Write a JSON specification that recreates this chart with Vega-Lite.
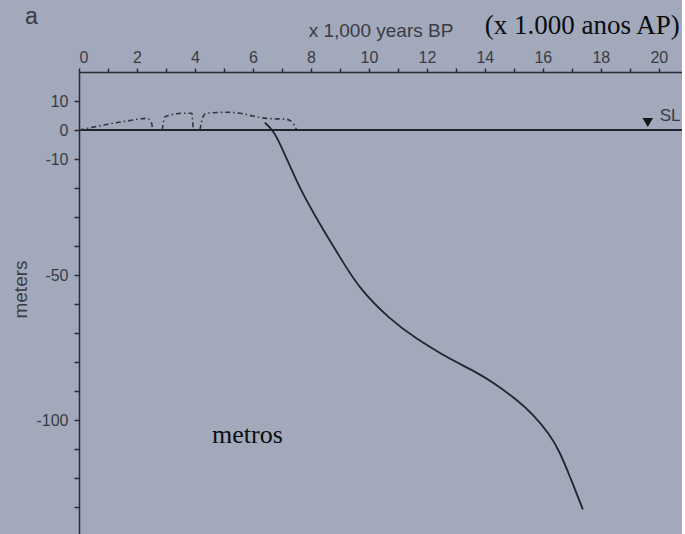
{
  "$schema": "https://vega.github.io/schema/vega-lite/v6.json",
  "autosize": "none",
  "width": 603,
  "height": 464,
  "padding": {"left": 79, "top": 72, "right": 0, "bottom": 0},
  "background": "#a1a9bb",
  "config": {
    "view": {"stroke": null},
    "font": "Liberation Sans"
  },
  "datasets": {
    "solid": [
      {"age": 6.41, "m": 2.5},
      {"age": 6.7, "m": 0},
      {"age": 7.03, "m": -6.7},
      {"age": 7.62, "m": -20.4},
      {"age": 8.2, "m": -30.5},
      {"age": 8.55, "m": -36.5},
      {"age": 9.1, "m": -45.5},
      {"age": 9.69, "m": -54.9},
      {"age": 10.72, "m": -65.3},
      {"age": 11.66, "m": -72.2},
      {"age": 12.55, "m": -77.5},
      {"age": 13.03, "m": -80.1},
      {"age": 13.71, "m": -83.6},
      {"age": 14.28, "m": -87.0},
      {"age": 15.09, "m": -92.9},
      {"age": 15.66, "m": -98.0},
      {"age": 16.24, "m": -105.0},
      {"age": 16.59, "m": -111.1},
      {"age": 16.93, "m": -119.4},
      {"age": 17.38, "m": -130.8}
    ],
    "dashed": [
      {"seg": "A", "age": 0.0, "m": 0.0},
      {"seg": "A", "age": 0.5, "m": 1.0},
      {"seg": "A", "age": 1.0, "m": 2.0},
      {"seg": "A", "age": 1.66, "m": 3.1},
      {"seg": "A", "age": 2.33, "m": 4.0},
      {"seg": "A", "age": 2.48, "m": 3.0},
      {"seg": "A", "age": 2.55, "m": 0.0},
      {"seg": "B", "age": 2.87, "m": 0.0},
      {"seg": "B", "age": 2.97, "m": 4.6},
      {"seg": "B", "age": 3.6, "m": 5.8},
      {"seg": "B", "age": 3.89, "m": 5.8},
      {"seg": "B", "age": 3.94, "m": 0.0},
      {"seg": "C", "age": 4.17, "m": 0.0},
      {"seg": "C", "age": 4.29, "m": 4.8},
      {"seg": "C", "age": 4.4, "m": 5.8},
      {"seg": "C", "age": 5.09, "m": 6.1},
      {"seg": "C", "age": 5.55, "m": 5.8},
      {"seg": "C", "age": 6.01, "m": 4.8},
      {"seg": "C", "age": 6.47, "m": 4.0},
      {"seg": "C", "age": 7.16, "m": 3.7},
      {"seg": "C", "age": 7.39, "m": 2.3},
      {"seg": "C", "age": 7.5, "m": 0.2}
    ],
    "marker": [{"age": 19.62, "m": 2.6}],
    "sl": [{"age": 20.03, "m": 5.0, "txt": "SL"}],
    "panel": [{"age": -1.86, "m": 38.9, "txt": "a"}],
    "big": [{"age": 14.0, "m": 33.0, "txt": "(x 1.000 anos AP)"}],
    "small": [{"age": 4.59, "m": -107.8, "txt": "metros"}]
  },
  "layer": [
    {
      "data": {"values": [{"m": 0}]},
      "mark": {"type": "rule", "color": "#22232b", "strokeWidth": 2},
      "encoding": {
        "y": {
          "field": "m",
          "type": "quantitative",
          "scale": {"domain": [-140, 20], "nice": false, "zero": false},
          "axis": {
            "orient": "left",
            "title": "meters",
            "titleFont": "Liberation Sans",
            "titleFontSize": 19,
            "titleFontWeight": "normal",
            "titleColor": "#3a3b45",
            "titleBaseline": "middle",
            "titleX": -59,
            "titleY": 217,
            "values": [-130, -120, -110, -100, -90, -80, -70, -60, -50, -40, -30, -20, -10, 0, 10],
            "tickCount": 40,
            "labelExpr": "indexof([10, 0, -10, -50, -100], datum.value) >= 0 ? (datum.value < 0 ? '-' + abs(datum.value) : '' + datum.value) : ''",
            "labelOverlap": false,
            "labelFontSize": 16,
            "labelColor": "#3a3b45",
            "labelPadding": 6,
            "tickSize": 5,
            "tickWidth": 1.5,
            "tickColor": "#2a2b33",
            "domainColor": "#2a2b33",
            "domainWidth": 1.5,
            "grid": false
          }
        }
      }
    },
    {
      "data": {"name": "solid"},
      "mark": {"type": "line", "color": "#23242c", "strokeWidth": 1.8, "interpolate": "basis"},
      "encoding": {
        "x": {
          "field": "age",
          "type": "quantitative",
          "scale": {"domain": [0, 20.8], "nice": false, "zero": false},
          "axis": {
            "orient": "top",
            "title": "x 1,000 years BP",
            "titleFont": "Liberation Sans",
            "titleFontSize": 19,
            "titleFontWeight": "normal",
            "titleColor": "#3a3b45",
            "titlePadding": 9,
            "values": [0, 1, 2, 3, 4, 5, 6, 7, 8, 9, 10, 11, 12, 13, 14, 15, 16, 17, 18, 19, 20],
            "tickCount": 40,
            "labelExpr": "datum.value % 2 == 0 ? '' + datum.value : ''",
            "labelOverlap": false,
            "labelFontSize": 16,
            "labelColor": "#3a3b45",
            "labelPadding": 3,
            "tickSize": 4,
            "tickWidth": 1.5,
            "tickColor": "#2a2b33",
            "domainColor": "#2a2b33",
            "domainWidth": 1.5,
            "grid": false
          }
        },
        "y": {"field": "m", "type": "quantitative"}
      }
    },
    {
      "data": {"name": "dashed"},
      "mark": {"type": "line", "color": "#34353f", "strokeWidth": 1.6, "strokeDash": [5, 3, 1.5, 3], "interpolate": "monotone"},
      "encoding": {
        "x": {"field": "age", "type": "quantitative"},
        "y": {"field": "m", "type": "quantitative"},
        "detail": {"field": "seg"}
      }
    },
    {
      "data": {"name": "marker"},
      "mark": {"type": "point", "shape": "triangle-down", "filled": true, "color": "#15161c", "size": 110, "opacity": 1},
      "encoding": {
        "x": {"field": "age", "type": "quantitative"},
        "y": {"field": "m", "type": "quantitative"}
      }
    },
    {
      "data": {"name": "sl"},
      "mark": {"type": "text", "align": "left", "baseline": "middle", "font": "Liberation Sans", "fontSize": 17, "color": "#3a3b45", "clip": false},
      "encoding": {
        "x": {"field": "age", "type": "quantitative"},
        "y": {"field": "m", "type": "quantitative"},
        "text": {"field": "txt"}
      }
    },
    {
      "data": {"name": "panel"},
      "mark": {"type": "text", "align": "left", "baseline": "middle", "font": "Liberation Sans", "fontSize": 23, "color": "#3a3b45", "clip": false},
      "encoding": {
        "x": {"field": "age", "type": "quantitative"},
        "y": {"field": "m", "type": "quantitative"},
        "text": {"field": "txt"}
      }
    },
    {
      "data": {"name": "big"},
      "mark": {"type": "text", "align": "left", "baseline": "alphabetic", "font": "Liberation Serif", "fontSize": 27, "color": "#0c0c10", "clip": false},
      "encoding": {
        "x": {"field": "age", "type": "quantitative"},
        "y": {"field": "m", "type": "quantitative"},
        "text": {"field": "txt"}
      }
    },
    {
      "data": {"name": "small"},
      "mark": {"type": "text", "align": "left", "baseline": "alphabetic", "font": "Liberation Serif", "fontSize": 26, "color": "#0c0c10", "clip": false},
      "encoding": {
        "x": {"field": "age", "type": "quantitative"},
        "y": {"field": "m", "type": "quantitative"},
        "text": {"field": "txt"}
      }
    }
  ]
}
